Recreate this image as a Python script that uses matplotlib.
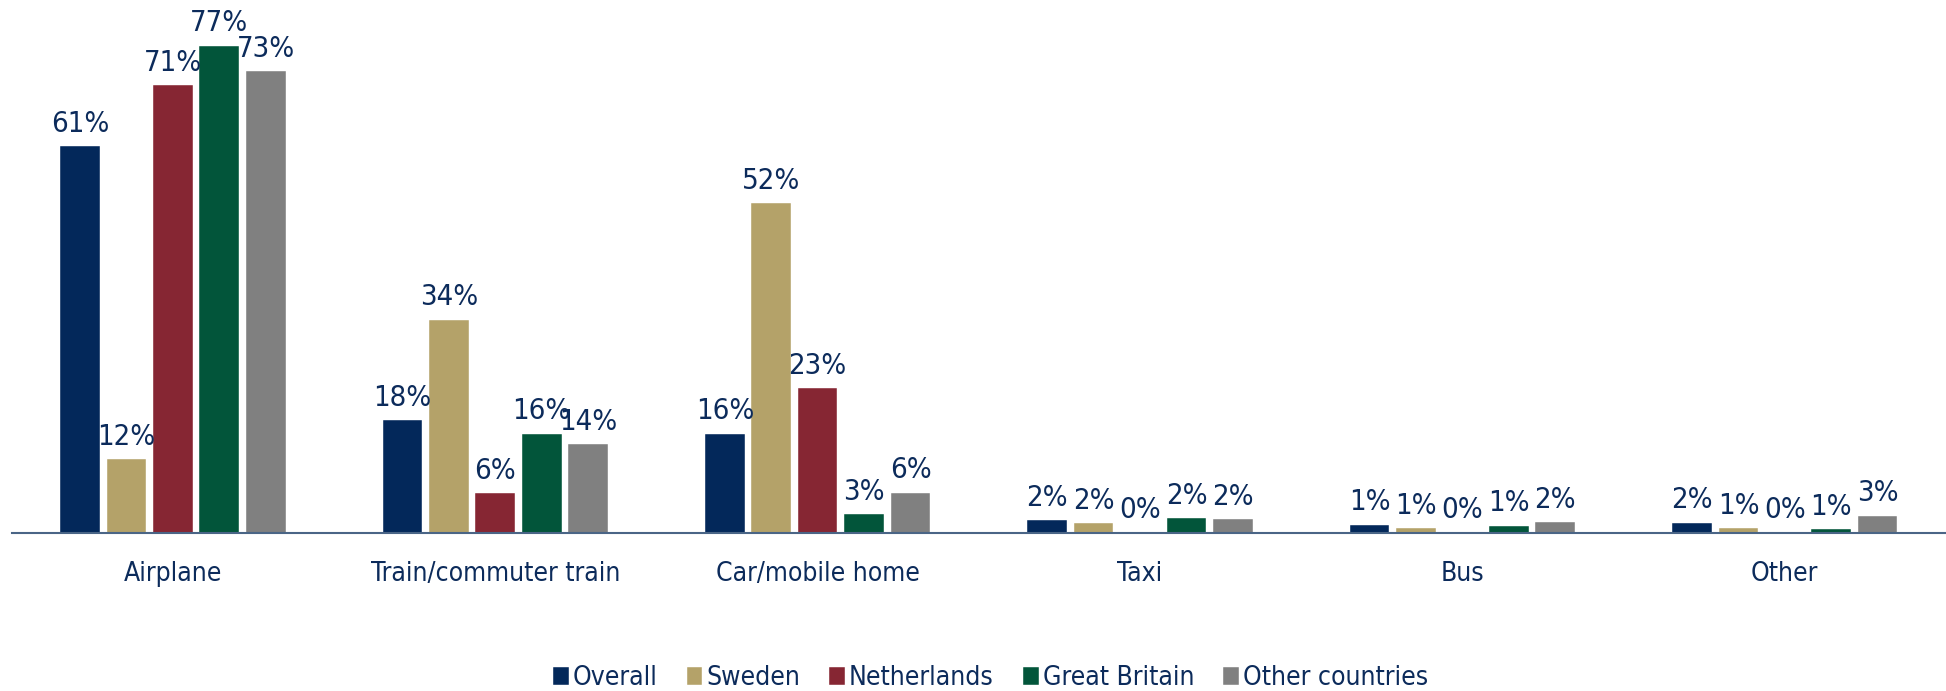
import numpy as np
import matplotlib.pyplot as plt

# values (percent)
categories = ['Airplane', 'Train/commuter train', 'Car/mobile home', 'Taxi', 'Bus', 'Other']
series = ['Overall', 'Sweden', 'Netherlands', 'Great Britain', 'Other countries']
overall = [61, 17.8, 15.6, 2.0, 1.3, 1.6]
sweden = [11.6, 33.6, 52, 1.5, 0.75, 0.75]
netherlands = [70.6, 6.2, 22.8, 0, 0, 0]
great_britain = [76.8, 15.6, 2.9, 2.3, 1.1, 0.6]
other_countries = [72.8, 14.0, 6.3, 2.1, 1.7, 2.7]

values = [overall, sweden, netherlands, great_britain, other_countries]
colors = ['#03285a', '#b4a269', '#862633', '#02553a', '#808080']
text_col = '#0c2b5b'
fs = 21
fs_small = 19

fig = plt.figure(figsize=(19.46, 6.91), dpi=100)
ax = fig.add_axes([0.006, 0.229, 0.994, 0.771])

x = np.arange(len(categories))
pitch = 0.144
width = 0.123
for i, (name, vals) in enumerate(zip(series, values)):
    pos = x + (i - 2) * pitch
    bars = ax.bar(pos, vals, width=width, color=colors[i], label=name,
                  edgecolor='white', linewidth=0.3)
    for b, v in zip(bars, vals):
        ax.annotate(f'{v:.0f}%', (b.get_x() + b.get_width() / 2, v),
                    xytext=(0, 6), textcoords='offset points',
                    ha='center', va='bottom', fontsize=fs,
                    fontstretch='condensed', color=text_col)

ax.set_xlim(-0.5, len(categories) - 0.5)
ax.set_ylim(0, 84)
ax.set_xticks(x)
ax.set_xticklabels(categories, fontsize=fs_small, fontstretch='condensed', color=text_col)
ax.tick_params(axis='x', length=0, pad=20)
ax.set_yticks([])
for s in ['top', 'right', 'left']:
    ax.spines[s].set_visible(False)
ax.spines['bottom'].set_color('#4a6586')
ax.spines['bottom'].set_linewidth(1.5)

leg = fig.legend(loc='lower center', bbox_to_anchor=(0.509, -0.035), ncol=5, frameon=False,
                 handlelength=0.6, handleheight=0.65, handletextpad=0.15,
                 columnspacing=1.1, prop={'size': fs_small, 'stretch': 'condensed'})
for t in leg.get_texts():
    t.set_color(text_col)

fig.savefig('out.png', dpi=100)
